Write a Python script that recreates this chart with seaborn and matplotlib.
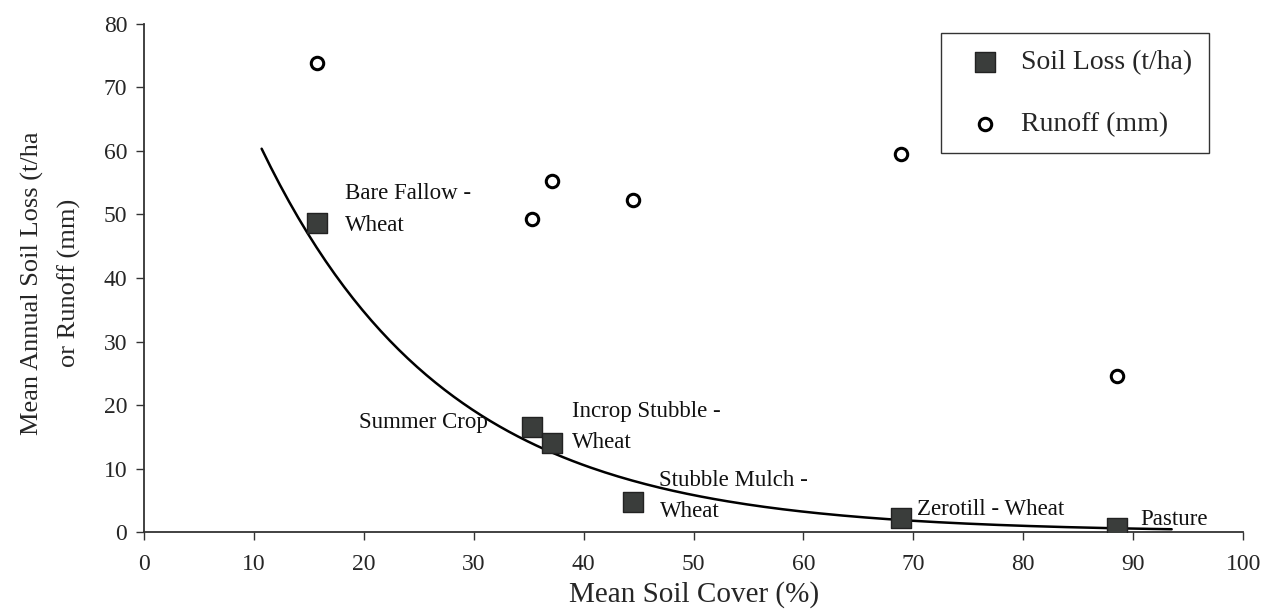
import numpy as np
import pandas as pd
import matplotlib
matplotlib.use("Agg")
import matplotlib.pyplot as plt
import seaborn as sns

# Mean soil cover (%) for each treatment
cover = [15.7, 35.3, 37.1, 44.5, 68.9, 88.5]
treatments = ["Bare Fallow -\nWheat", "Summer Crop", "Incrop Stubble -\nWheat",
              "Stubble Mulch -\nWheat", "Zerotill - Wheat", "Pasture"]
soil_loss = [48.7, 16.5, 14.0, 4.7, 2.2, 0.6]      # t/ha
runoff = [73.9, 49.3, 55.3, 52.3, 59.5, 24.6]      # mm

x_ticks = list(range(0, 101, 10))
y_ticks = list(range(0, 81, 10))

df = pd.DataFrame({"cover": cover, "treatment": treatments,
                   "soil_loss": soil_loss, "runoff": runoff})

sns.set_theme(style="ticks")
plt.rcParams["font.family"] = ["Liberation Serif", "DejaVu Serif"]

fig = plt.figure(figsize=(12.78, 6.12), dpi=100)
ax = fig.add_axes([0.1127, 0.1307, 0.86, 0.8301])

# Exponential trend of soil loss against cover (log-linear least squares),
# extended 5 units beyond the data on both sides
b, ln_a = np.polyfit(df["cover"], np.log(df["soil_loss"]), 1)
x_fit = np.linspace(min(cover) - 5, max(cover) + 5, 200)
trend = pd.DataFrame({"x": x_fit, "y": np.exp(ln_a + b * x_fit)})
sns.lineplot(data=trend, x="x", y="y", ax=ax, color="black", linewidth=1.8,
             legend=False, zorder=2)

sns.scatterplot(data=df, x="cover", y="soil_loss", ax=ax, marker="s", s=190,
                color="#3a3d3b", edgecolor="#222222", linewidth=1.0,
                label="Soil Loss (t/ha)", zorder=3)
sns.scatterplot(data=df, x="cover", y="runoff", ax=ax, marker="o", s=80,
                facecolor="white", edgecolor="black", linewidth=2.2,
                label="Runoff (mm)", zorder=3)

# Treatment labels
label_pos = {
    "Bare Fallow -\nWheat": (18.3, 50.8, "left"),
    "Summer Crop": (31.3, 17.3, "right"),
    "Incrop Stubble -\nWheat": (38.9, 16.5, "left"),
    "Stubble Mulch -\nWheat": (46.9, 5.7, "left"),
    "Zerotill - Wheat": (70.3, 3.6, "left"),
    "Pasture": (90.6, 2.0, "left"),
}
for name, (tx, ty, ha) in label_pos.items():
    ax.text(tx, ty, name, ha=ha, va="center", fontsize=16.5,
            linespacing=1.65, color="#111111")

ax.set_xlim(0, 100)
ax.set_ylim(0, 80)
ax.set_xticks(x_ticks)
ax.set_yticks(y_ticks)
ax.tick_params(axis="both", labelsize=17, length=6, width=1.0,
               color="#333333", direction="out", pad=6)
ax.tick_params(axis="x", pad=10)

sns.despine(ax=ax)
for side in ("left", "bottom"):
    ax.spines[side].set_color("#333333")
    ax.spines[side].set_linewidth(1.3)

ax.set_xlabel("Mean Soil Cover (%)", fontsize=21, labelpad=4)
ax.set_ylabel("Mean Annual Soil Loss (t/ha\nor Runoff (mm)", fontsize=19,
              linespacing=1.8)
ax.yaxis.set_label_coords(-0.057, 0.49)

leg = ax.legend(loc="upper left", bbox_to_anchor=(0.725, 0.982), fontsize=20,
                frameon=True, fancybox=False, edgecolor="black",
                borderpad=0.6, labelspacing=1.3, handletextpad=0.3,
                borderaxespad=0, markerscale=1.0)
leg.get_frame().set_linewidth(1.0)

fig.savefig("out.png", dpi=100, facecolor="white")
